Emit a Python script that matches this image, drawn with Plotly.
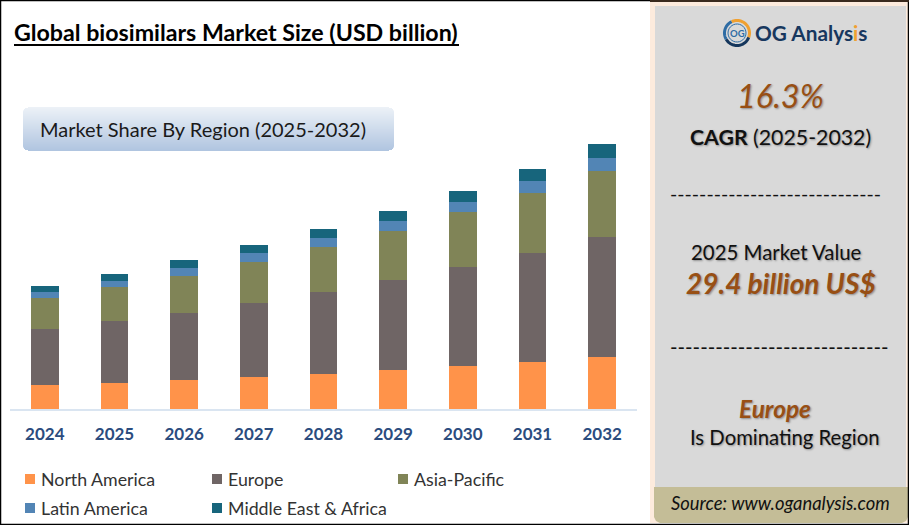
import numpy as np
import plotly.graph_objects as go

W, H = 909, 525

# market size by region, USD billion
years = ['2024', '2025', '2026', '2027', '2028', '2029', '2030', '2031', '2032']
north_america = [5.23, 5.66, 6.32, 6.97, 7.62, 8.49, 9.37, 10.24, 11.33]
europe = [12.20, 13.50, 14.59, 16.12, 17.86, 19.60, 21.56, 23.74, 26.14]
asia_pacific = [6.75, 7.41, 8.06, 8.93, 9.80, 10.74, 11.98, 13.07, 14.37]
latin_america = [1.31, 1.31, 1.74, 1.96, 1.96, 2.18, 2.18, 2.61, 2.83]
middle_east_africa = [1.31, 1.52, 1.74, 1.74, 1.96, 2.18, 2.40, 2.61, 3.05]

regions = ['North America', 'Europe', 'Asia-Pacific', 'Latin America', 'Middle East & Africa']
series = [north_america, europe, asia_pacific, latin_america, middle_east_africa]
colors = ['#FF934A', '#6F6565', '#808457', '#5285B5', '#17657C']

BROWN = '#984F14'
FONT = 'Lato'


def px(x, y):
    return x / W, 1 - y / H


def box(x0, y0, x1, y1, fill, line=None, width=0, layer='below'):
    return dict(type='rect', xref='paper', yref='paper', x0=x0 / W, x1=x1 / W,
                y0=1 - y0 / H, y1=1 - y1 / H, fillcolor=fill, layer=layer,
                line=dict(color=line, width=width))


def label(x, y, text, size, color='#111111', anchor='center', shadow=None):
    xf, yf = px(x, y)
    return dict(xref='paper', yref='paper', x=xf, y=yf, text=text, showarrow=False,
                xanchor=anchor, yanchor='middle',
                font=dict(family=FONT, size=size, color=color, shadow=shadow or 'none'))


def poly(points, color, width):
    path = 'M' + 'L'.join(f'{x / W:.5f},{1 - y / H:.5f}' for x, y in points)
    return dict(type='path', xref='paper', yref='paper', path=path, layer='above',
                line=dict(color=color, width=width))


def arc(cx, cy, r, a0, a1, color, width):
    angles = np.radians(np.linspace(a0, a1, 30))
    return poly(list(zip(cx + r * np.cos(angles), cy + r * np.sin(angles))), color, width)


fig = go.Figure()
for name, values, color in zip(regions, series, colors):
    fig.add_trace(go.Bar(x=years, y=values, name=name, marker_color=color, marker_line_width=0))

# footer of the panel with its lower corners cut round
footer = poly([(654, 487), (908, 487), (908, 517), (906, 521), (902, 523),
               (660, 523), (656, 521), (654, 517), (654, 487)], 'rgba(0,0,0,0)', 0)
footer.update(fillcolor='#C4BD97', layer='below')

shapes = [
    # right hand panel
    box(650, 2, 909, 523, '#FDEBDD'),
    box(655, 6, 906, 490, '#D9D9D9'),
    footer,
    # underline of the title
    box(14, 44, 459, 46, '#000000', layer='above'),
    # outer frame
    box(0.5, 0.5, 908.5, 524.5, 'rgba(0,0,0,0)', '#000000', 1.5, 'above'),
    box(650, 0, 909, 2, '#3A2A1E', layer='above'),
    # logo
    arc(737, 33, 12.5, 20, 150, '#14365C', 3),
    arc(737, 33, 12.5, 150, 245, '#2E6CA4', 3),
    arc(737, 33, 12.5, 245, 380, '#F0A030', 3),
    arc(737, 33, 9, 0, 360, '#2E6CA4', 1),
]

# the pill behind the subtitle, pale on top and darker to the bottom
top_col, bottom_col = np.array([236, 241, 247]), np.array([176, 197, 224])
pill_rows = 44
for i in range(pill_rows):
    c = top_col + (bottom_col - top_col) * i / (pill_rows - 1)
    inset = 0
    if i < 5:
        inset = 5 - np.sqrt(25 - (5 - i) ** 2)
    elif i > pill_rows - 6:
        inset = 5 - np.sqrt(25 - (i - (pill_rows - 6)) ** 2)
    shapes.append(box(23 + inset, 107 + i, 394 - inset, 108 + i,
                      f'rgb({c[0]:.0f},{c[1]:.0f},{c[2]:.0f})'))

# legend squares
legend_pos = [(25, 479), (212, 479), (398, 479), (25, 508), (212, 508)]
for (x, y), color in zip(legend_pos, colors):
    shapes.append(box(x, y - 5, x + 10, y + 5, color))

soft = '1px 1px 2px rgba(0,0,0,0.35)'
annotations = [
    label(38, 129, 'Market Share By Region (2025-2032)', 20, '#1A1A1A', 'left'),
    label(737, 33.5, '<b>OG</b>', 9.5, '#2E6CA4'),
    label(753, 33, "<b>OG Analys<span style='color:#F0A030'>i</span>s</b>", 20.8, '#17375E', 'left'),
    label(780, 96, '<i>16.3%</i>', 32.5, BROWN, shadow=soft),
    label(780, 137, '<b>CAGR</b> (2025-2032)', 21.3, '#111111', shadow=soft),
    label(775.5, 193, '-----------------------------', 19.6, '#111111'),
    label(775.5, 252, '2025 Market Value', 20.4, '#111111', shadow=soft),
    label(781, 283, '<b><i>29.4 billion US$</i></b>', 28, BROWN, shadow=soft),
    label(779.5, 346.5, '-----------------------------', 20.3, '#111111'),
    label(774.5, 408, '<b><i>Europe</i></b>', 24.4, BROWN, shadow=soft),
    label(784.5, 437, 'Is Dominating Region', 20.3, '#111111', shadow=soft),
    label(780.5, 503, '<i>Source: www.oganalysis.com</i>', 18.4, '#111111'),
]
for (x, y), name in zip(legend_pos, regions):
    annotations.append(label(x + 14, y, name, 17.8, '#333333', 'left'))

fig.update_layout(
    width=W,
    height=H,
    barmode='stack',
    bargap=0.6,
    showlegend=False,
    plot_bgcolor='white',
    paper_bgcolor='white',
    margin=dict(l=0, r=0, t=0, b=0),
    font=dict(family=FONT),
    title=dict(text='<b>Global biosimilars Market Size (USD billion)</b>',
               x=14 / W, xanchor='left', xref='paper',
               y=1 - 33 / H, yanchor='middle', yref='paper',
               font=dict(family=FONT, size=23.2, color='#000000')),
    xaxis=dict(domain=[10 / W, 637 / W], showline=True, linecolor='#DAE5F1', linewidth=2,
               ticks='', ticklabelstandoff=9, showgrid=False,
               tickfont=dict(family=FONT, size=17, color='#2B4C7E', weight='bold')),
    yaxis=dict(domain=[(H - 409) / H, 1], range=[0, 89.08], visible=False, showgrid=False),
    shapes=shapes,
    annotations=annotations,
)

fig.write_html("out.html", config={'displayModeBar': False},
               post_script="document.body.style.margin='0';")
